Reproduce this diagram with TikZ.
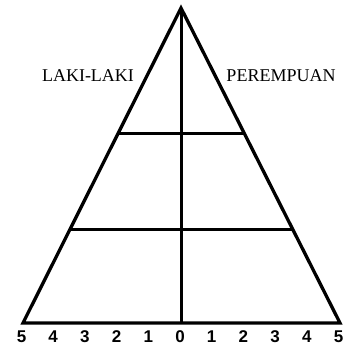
\documentclass[tikz,border=0pt]{standalone}
\usepackage{fontspec}
\setmainfont{Liberation Serif}
\newfontfamily\numfont{Liberation Sans}
\usetikzlibrary{calc}

\begin{document}
\begin{tikzpicture}[x=1pt,y=1pt]

% --- Styles ---
\tikzset{
    edge/.style={draw=black, line width=3.3pt, line join=miter},
    level/.style={draw=black, line width=3pt},
    sexlabel/.style={font=\fontsize{18}{20}\selectfont, inner sep=0pt},
    agelabel/.style={font=\numfont\bfseries\fontsize{17}{19}\selectfont, inner sep=0pt}
}

\useasboundingbox (0,0) rectangle (352,348);

% --- Piramida ---
\coordinate (top) at (181,340);
\coordinate (bl) at (23,25);
\coordinate (br) at (340,25);
\coordinate (bc) at (181,25);

\draw[edge] (bl) -- (top) -- (br) -- cycle;
\draw[level] (top) -- (bc);

% Garis tingkat
\coordinate (l1) at ($(top)!0.397!(bl)$);
\coordinate (r1) at ($(top)!0.397!(br)$);
\coordinate (l2) at ($(top)!0.702!(bl)$);
\coordinate (r2) at ($(top)!0.702!(br)$);
\draw[level] (l1) -- (r1);
\draw[level] (l2) -- (r2);

% --- Label ---
\node[sexlabel] (laki) at (88,272) {LAKI-LAKI};
\node[sexlabel] (perempuan) at (281,272) {PEREMPUAN};

% Skala umur
\foreach \k in {-5,...,5} {
    \pgfmathtruncatemacro{\v}{abs(\k)}
    \node[agelabel] (age\k) at ({180+31.7*\k},11) {\v};
}

\end{tikzpicture}
\end{document}
